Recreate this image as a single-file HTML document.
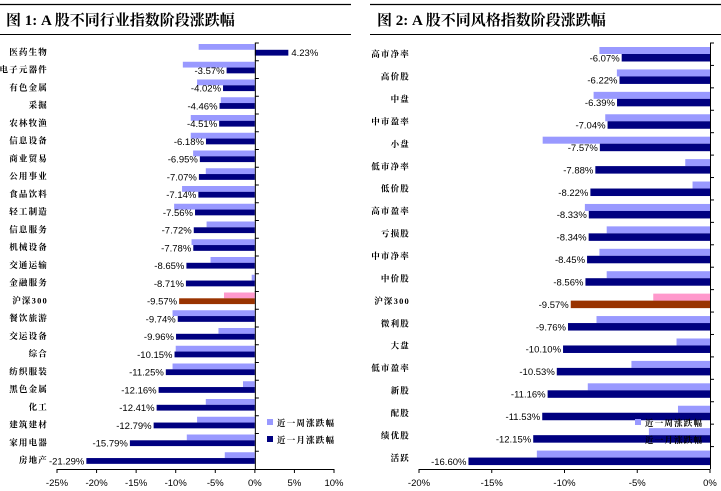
<!DOCTYPE html>
<html><head><meta charset="utf-8">
<style>
html,body{margin:0;padding:0;background:#fff;}
body{width:721px;height:491px;overflow:hidden;position:relative;}
svg{position:absolute;left:0;top:0;}
.t{font-family:"Liberation Serif","Noto Serif CJK SC",serif;font-weight:bold;font-size:15px;}
.c{font-family:"Liberation Serif","Noto Serif CJK SC",serif;font-size:8.5px;font-weight:bold;letter-spacing:1.2px;}
.v{font-family:"Liberation Sans",sans-serif;font-size:9.5px;}
</style></head><body>
<svg id="s" width="721" height="491">
<line x1="0" y1="4.5" x2="351" y2="4.5" stroke="#000" stroke-width="1.2"/>
<line x1="0" y1="34.5" x2="351" y2="34.5" stroke="#000" stroke-width="1"/>
<line x1="370" y1="4.5" x2="721" y2="4.5" stroke="#000" stroke-width="1.2"/>
<line x1="370" y1="34.5" x2="721" y2="34.5" stroke="#000" stroke-width="1"/>
<text class="t" x="6" y="25">图 1:  A 股不同行业指数阶段涨跌幅</text>
<text class="t" x="377" y="25">图 2:  A 股不同风格指数阶段涨跌幅</text>
</svg>
<script>
const leftCats=["医药生物","电子元器件","有色金属","采掘","农林牧渔","信息设备","商业贸易","公用事业","食品饮料","轻工制造","信息服务","机械设备","交通运输","金融服务","沪深300","餐饮旅游","交运设备","综合","纺织服装","黑色金属","化工","建筑建材","家用电器","房地产"];
const leftWeek=[-7.1,-9.1,-7.3,-4.3,-8.1,-8.1,-7.8,-6.2,-9.2,-10.2,-6.1,-8.0,-5.6,-0.4,-3.9,-10.4,-4.6,-10.0,-10.4,-1.5,-6.2,-7.3,-8.6,-3.8];
const leftMonth=[4.23,-3.57,-4.02,-4.46,-4.51,-6.18,-6.95,-7.07,-7.14,-7.56,-7.72,-7.78,-8.65,-8.71,-9.57,-9.74,-9.96,-10.15,-11.25,-12.16,-12.41,-12.79,-15.79,-21.29];
const leftTicks=[-25,-20,-15,-10,-5,0,5,10];
const rightCats=["高市净率","高价股","中盘","中市盈率","小盘","低市净率","低价股","高市盈率","亏损股","中市净率","中价股","沪深300","微利股","大盘","低市盈率","新股","配股","绩优股","活跃"];
const rightWeek=[-7.6,-6.4,-8.0,-7.2,-11.5,-1.7,-1.2,-8.6,-7.1,-7.6,-7.1,-3.9,-7.8,-2.3,-5.4,-8.4,-2.2,-4.2,-11.9];
const rightMonth=[-6.07,-6.22,-6.39,-7.04,-7.57,-7.88,-8.22,-8.33,-8.34,-8.45,-8.56,-9.57,-9.76,-10.10,-10.53,-11.16,-11.53,-12.15,-16.60];
const rightTicks=[-20,-15,-10,-5,0];
const NS="http://www.w3.org/2000/svg";
const svg=document.getElementById('s');
function mk(tag,attrs,parent){const e=document.createElementNS(NS,tag);for(const k in attrs)e.setAttribute(k,attrs[k]);(parent||svg).appendChild(e);return e;}
function fmt(v){return v.toFixed(2)+'%';}
function chart(cfg){
  const g=mk('g',{});
  
  
  const x=v=>cfg.x0+(v-cfg.vmin)*(cfg.x1-cfg.x0)/(cfg.vmax-cfg.vmin);
  const n=cfg.cats.length, pitch=(cfg.bottom-cfg.top)/n;
  const zx=x(0);
  for(let i=0;i<n;i++){
    const rt=cfg.top+i*pitch;
    const hs=cfg.cats[i]==="沪深300";
    const w=cfg.week[i], m=cfg.month[i];
    const b1=mk('rect',{x:Math.min(x(w),zx),y:rt+cfg.off,width:Math.abs(x(w)-zx),height:cfg.bh,fill:hs?'#ff99cc':'#9999ff'},g);
    
    
    const b2=mk('rect',{x:Math.min(x(m),zx),y:rt+cfg.off+cfg.bh,width:Math.abs(x(m)-zx),height:cfg.bh2,fill:hs?'#993300':'#000080'},g);
    
    
    const ly=rt+cfg.off+cfg.bh+cfg.bh2/2+3.5;
    const t=mk('text',{class:'v',x:m<0?x(m)-2:x(m)+3,y:ly,'text-anchor':m<0?'end':'start'},g);
    t.textContent=fmt(m);
    
    
    const c=mk('text',{class:'c',x:cfg.labelX,y:rt+pitch/2+3,'text-anchor':'end'},g);
    c.textContent=cfg.cats[i];
    
    
    mk('line',{x1:zx,y1:rt,x2:zx+4,y2:rt,stroke:'#000','stroke-width':1},g);
  }
  mk('line',{x1:zx+0.5,y1:cfg.top,x2:zx+0.5,y2:cfg.bottom,stroke:'#000','stroke-width':1},g);
  mk('line',{x1:x(cfg.vmin),y1:cfg.bottom+0.5,x2:x(cfg.vmax),y2:cfg.bottom+0.5,stroke:'#000','stroke-width':1},g);
  cfg.ticks.forEach(tv=>{
    mk('line',{x1:x(tv),y1:cfg.bottom,x2:x(tv),y2:cfg.bottom+4,stroke:'#000','stroke-width':1},g);
    const t=mk('text',{class:'v',x:x(tv),y:cfg.bottom+17,'text-anchor':'middle'},g);
    t.textContent=tv+'%';
    
    
  });
  [['近一周涨跌幅','#9999ff'],['近一月涨跌幅','#000080']].forEach((L,j)=>{
    const r=mk('rect',{x:cfg.legX,y:cfg.legY+j*17-5,width:6,height:6,fill:L[1]},g);
    
    
    const t=mk('text',{class:'c',x:cfg.legX+10,y:cfg.legY+j*17+2},g);
    t.textContent=L[0];
    
    
  });
}
chart({name:'left-chart',cats:leftCats,week:leftWeek,month:leftMonth,ticks:leftTicks,vmin:-25,vmax:10,x0:57,x1:334,top:43,bottom:469,off:1,bh:5.8,bh2:5.8,labelX:48,legX:267,legY:424});
chart({name:'right-chart',cats:rightCats,week:rightWeek,month:rightMonth,ticks:rightTicks,vmin:-20,vmax:0,x0:419,x1:710,top:43,bottom:469,off:4,bh:7,bh2:7.5,labelX:410,legX:635,legY:424});
</script>
</body></html>
